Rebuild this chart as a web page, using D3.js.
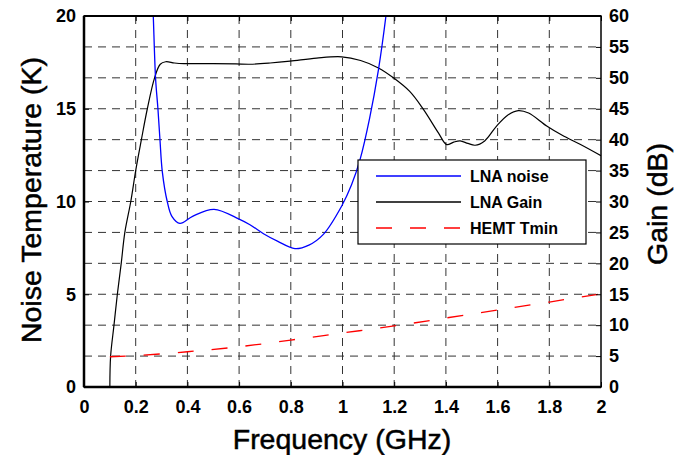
<!DOCTYPE html>
<html>
<head>
<meta charset="utf-8">
<script src="https://cdn.jsdelivr.net/npm/d3@7/dist/d3.min.js"></script>
<style>
  body { margin: 0; background: #fff; }
  text { font-family: "Liberation Sans", Arial, Helvetica, sans-serif; }
</style>
</head>
<body>
<svg id="chart" width="683" height="455"></svg>
<script>
// ---- data ----
const xTickValues = [0, 0.2, 0.4, 0.6, 0.8, 1.0, 1.2, 1.4, 1.6, 1.8, 2.0];
const xTickLabels = ["0", "0.2", "0.4", "0.6", "0.8", "1", "1.2", "1.4", "1.6", "1.8", "2"];
const leftTickValues = [0, 5, 10, 15, 20];
const rightTickValues = [0, 5, 10, 15, 20, 25, 30, 35, 40, 45, 50, 55, 60];

const noiseFreq = [0.266, 0.268, 0.277, 0.286, 0.294, 0.303, 0.322, 0.34, 0.371, 0.42, 0.503, 0.6, 0.642, 0.696, 0.75, 0.816, 0.87, 0.926, 0.997, 1.035, 1.068, 1.105, 1.139, 1.168, 1.172];
const noiseTemp = [20.6, 20.0, 16.6, 15.0, 13.3, 11.6, 10.0, 9.2, 8.82, 9.2, 9.58, 9.05, 8.75, 8.25, 7.85, 7.46, 7.65, 8.23, 9.76, 10.9, 12.27, 14.5, 17.1, 20.0, 20.5];

const gainFreq = [0.1, 0.103, 0.116, 0.129, 0.144, 0.158, 0.181, 0.2, 0.222, 0.245, 0.273, 0.295, 0.316, 0.35, 0.387, 0.5, 0.588, 0.642, 0.72, 0.797, 0.9, 0.997, 1.07, 1.139, 1.197, 1.26, 1.313, 1.371, 1.403, 1.43, 1.455, 1.485, 1.513, 1.55, 1.596, 1.64, 1.68, 1.72, 1.79, 1.85, 1.919, 2.0];
const gainDB = [0, 5, 10, 15, 20, 25, 30, 35, 40, 45, 50, 52.2, 52.6, 52.4, 52.3, 52.3, 52.25, 52.2, 52.4, 52.7, 53.2, 53.4, 52.8, 51.6, 50.0, 47.8, 44.9, 41.1, 39.2, 39.6, 39.8, 39.4, 39.1, 39.8, 42.2, 44.0, 44.7, 44.3, 42.2, 40.7, 39.25, 37.4];

const tminFreq = [0.1, 0.2, 0.4, 0.6, 0.8, 1.0, 1.2, 1.4, 1.6, 1.8, 2.0];
const tminTemp = [1.63, 1.69, 1.9, 2.17, 2.53, 2.91, 3.29, 3.72, 4.15, 4.58, 5.02];

const seriesNames = ["LNA noise", "LNA Gain", "HEMT Tmin"];

// ---- layout ----
const L = 84, R = 601, T = 16, B = 387;
const svg = d3.select("#chart");
const x = d3.scaleLinear().domain([0, 2]).range([L, R]);
const yL = d3.scaleLinear().domain([0, 20]).range([B, T]);
const yR = d3.scaleLinear().domain([0, 60]).range([B, T]);

svg.append("defs").append("clipPath").attr("id", "clip")
  .append("rect").attr("x", L).attr("y", T).attr("width", R - L).attr("height", B - T);

// grid
const grid = svg.append("g").attr("stroke", "#333").attr("stroke-width", 1).attr("stroke-dasharray", "8,6");
grid.selectAll("line.v").data(xTickValues.slice(1, -1)).enter().append("line")
  .attr("x1", d => x(d)).attr("x2", d => x(d)).attr("y1", T).attr("y2", B);
grid.selectAll("line.h").data(rightTickValues.slice(1, -1)).enter().append("line")
  .attr("y1", d => yR(d)).attr("y2", d => yR(d)).attr("x1", L).attr("x2", R);

// lines
const plot = svg.append("g").attr("clip-path", "url(#clip)");
const lineL = d3.line().x(d => x(d[0])).y(d => yL(d[1])).curve(d3.curveCatmullRom.alpha(0.5));
const lineR = d3.line().x(d => x(d[0])).y(d => yR(d[1])).curve(d3.curveCatmullRom.alpha(0.5));

plot.append("path").datum(gainFreq.map((f, i) => [f, gainDB[i]]))
  .attr("d", lineR).attr("fill", "none").attr("stroke", "#000").attr("stroke-width", 1.2);
plot.append("path").datum(noiseFreq.map((f, i) => [f, noiseTemp[i]]))
  .attr("d", lineL).attr("fill", "none").attr("stroke", "#0000ff").attr("stroke-width", 1.3);
plot.append("path").datum(tminFreq.map((f, i) => [f, tminTemp[i]]))
  .attr("d", lineL).attr("fill", "none").attr("stroke", "#ff0000").attr("stroke-width", 1.3)
  .attr("stroke-dasharray", "16,18");

// axes
const fontTick = "bold 18px 'Liberation Sans', Arial, sans-serif";
const ax = svg.append("g").attr("transform", `translate(0,${B})`)
  .call(d3.axisBottom(x).tickValues(xTickValues).tickFormat((d, i) => xTickLabels[i]).tickSize(-5).tickPadding(13));
const axL = svg.append("g").attr("transform", `translate(${L},0)`)
  .call(d3.axisLeft(yL).tickValues(leftTickValues).tickSize(-5).tickPadding(8));
const axR = svg.append("g").attr("transform", `translate(${R},0)`)
  .call(d3.axisRight(yR).tickValues(rightTickValues).tickSize(-5).tickPadding(8));
[ax, axL, axR].forEach(g => {
  g.select(".domain").remove();
  g.selectAll(".tick line").attr("stroke", "#000").attr("stroke-width", 1);
  g.selectAll(".tick text").style("font", fontTick).attr("fill", "#000");
});
// top ticks
svg.append("g").attr("transform", `translate(0,${T})`)
  .call(d3.axisTop(x).tickValues(xTickValues).tickFormat("").tickSize(-5))
  .call(g => g.select(".domain").remove())
  .selectAll(".tick line").attr("stroke", "#000");

// frame
svg.append("rect").attr("x", L).attr("y", T).attr("width", R - L).attr("height", B - T)
  .attr("fill", "none").attr("stroke", "#000").attr("stroke-width", 1.5);
svg.append("line").attr("x1", L).attr("x2", L).attr("y1", T).attr("y2", B).attr("stroke", "#000").attr("stroke-width", 2.5);
svg.append("line").attr("x1", L).attr("x2", R).attr("y1", B).attr("y2", B).attr("stroke", "#000").attr("stroke-width", 2.5);
svg.append("line").attr("x1", L).attr("x2", R).attr("y1", T).attr("y2", T).attr("stroke", "#000").attr("stroke-width", 2);

// titles
const fontTitle = "28.5px 'Liberation Sans', Arial, sans-serif";
const titleStyle = sel => sel.style("font", fontTitle).attr("fill", "#000").attr("stroke", "#000").attr("stroke-width", 0.5);
svg.append("text").attr("x", 342).attr("y", 449).attr("text-anchor", "middle")
  .call(titleStyle).text("Frequency (GHz)");
svg.append("text").attr("transform", `translate(41,200) rotate(-90)`).attr("text-anchor", "middle")
  .call(titleStyle).text("Noise Temperature (K)");
svg.append("text").attr("transform", `translate(667,204) rotate(-90)`).attr("text-anchor", "middle")
  .call(titleStyle).text("Gain (dB)");

// legend
const lg = svg.append("g");
lg.append("rect").attr("x", 358).attr("y", 160).attr("width", 228).attr("height", 84)
  .attr("fill", "#fff").attr("stroke", "#000").attr("stroke-width", 1.2);
const legColors = ["#0000ff", "#000", "#ff0000"];
const legDash = [null, null, "16,18"];
seriesNames.forEach((name, i) => {
  const yy = 176 + i * 26;
  lg.append("line").attr("x1", 376).attr("x2", 461).attr("y1", yy).attr("y2", yy)
    .attr("stroke", legColors[i]).attr("stroke-width", 1.3).attr("stroke-dasharray", legDash[i]);
  lg.append("text").attr("x", 470).attr("y", yy + 6).style("font", "bold 16px 'Liberation Sans', Arial, sans-serif")
    .text(name);
});
</script>
</body>
</html>
